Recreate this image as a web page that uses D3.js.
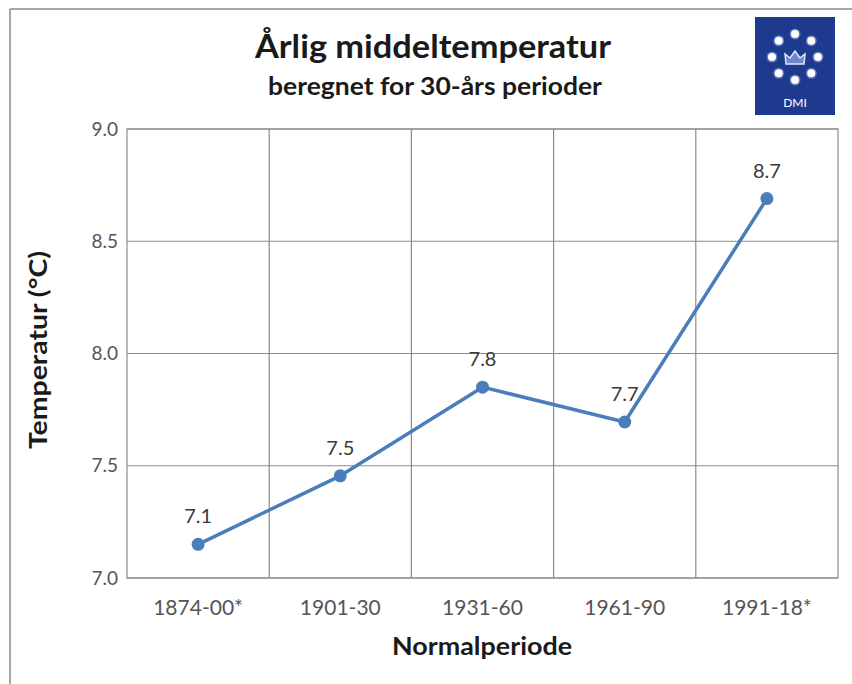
<!DOCTYPE html>
<html><head><meta charset="utf-8">
<script src="https://cdn.jsdelivr.net/npm/d3@7"></script>
<style>body{margin:0;background:#fff;}svg{display:block;}</style>
</head><body><svg id="c" width="852" height="684"></svg>
<script>
const categories = ["1874-00*", "1901-30", "1931-60", "1961-90", "1991-18*"];
const values = [7.15, 7.455, 7.85, 7.695, 8.69];
const valueLabels = ["7.1", "7.5", "7.8", "7.7", "8.7"];
const yTicks = [7.0, 7.5, 8.0, 8.5, 9.0];
const title = "Årlig middeltemperatur";
const subtitle = "beregnet for 30-års perioder";
const xTitle = "Normalperiode";
const yTitle = "Temperatur (°C)";

const svg = d3.select("#c");
const font = "Lato, 'Open Sans', sans-serif";
const m = {left:127, right:838, top:129, bottom:578};

// outer frame
svg.append("line").attr("x1",10).attr("x2",852).attr("y1",9).attr("y2",9).attr("stroke","#a6a6a6").attr("stroke-width",2);
svg.append("line").attr("x1",10).attr("x2",10).attr("y1",9).attr("y2",684).attr("stroke","#a6a6a6").attr("stroke-width",2);

const x = d3.scaleBand().domain(categories).range([m.left, m.right]).paddingInner(0).paddingOuter(0);
const y = d3.scaleLinear().domain([7,9]).range([m.bottom, m.top]);

// grid
const g = svg.append("g");
g.selectAll("line.h").data(yTicks).join("line")
  .attr("x1",m.left).attr("x2",m.right).attr("y1",d=>y(d)).attr("y2",d=>y(d))
  .attr("stroke","#8c8c8c").attr("stroke-width",1.2);
g.selectAll("line.v").data(categories.slice(1)).join("line")
  .attr("x1",d=>x(d)).attr("x2",d=>x(d)).attr("y1",m.top).attr("y2",m.bottom)
  .attr("stroke","#8c8c8c").attr("stroke-width",1.2);
svg.append("rect").attr("x",m.left).attr("y",m.top).attr("width",m.right-m.left).attr("height",m.bottom-m.top)
  .attr("fill","none").attr("stroke","#8c8c8c").attr("stroke-width",1.2);

// y axis labels
const ya = svg.append("g").attr("transform",`translate(${m.left},0)`)
  .call(d3.axisLeft(y).tickValues(yTicks).tickFormat(d3.format(".1f")).tickSize(0).tickPadding(9));
ya.select(".domain").remove();
ya.selectAll("text").attr("font-family",font).attr("font-size",19).attr("fill","#555555");

// x axis labels
const xa = svg.append("g").attr("transform",`translate(0,${m.bottom})`)
  .call(d3.axisBottom(x).tickSize(0).tickPadding(22));
xa.select(".domain").remove();
xa.selectAll("text").attr("font-family",font).attr("font-size",21).attr("fill","#555555");

// line
const cx = d => x(d) + x.bandwidth()/2;
const pts = categories.map((c,i)=>({c, v:values[i], l:valueLabels[i]}));
svg.append("path").datum(pts)
  .attr("d", d3.line().x(d=>cx(d.c)).y(d=>y(d.v)))
  .attr("fill","none").attr("stroke","#4a7ebb").attr("stroke-width",3.5).attr("stroke-linejoin","round");
svg.selectAll("circle.p").data(pts).join("circle")
  .attr("cx",d=>cx(d.c)).attr("cy",d=>y(d.v)).attr("r",6.5).attr("fill","#4a7ebb");
svg.selectAll("text.lab").data(pts).join("text")
  .attr("x",d=>cx(d.c)).attr("y",d=>y(d.v)-21).attr("text-anchor","middle")
  .attr("font-family",font).attr("font-size",20).attr("fill","#3a3a3a").text(d=>d.l);

// titles
svg.append("text").attr("x",433).attr("y",58).attr("text-anchor","middle")
  .attr("font-family",font).attr("font-weight","bold").attr("font-size",33).attr("fill","#1a1a1a")
  .attr("textLength",356).attr("lengthAdjust","spacingAndGlyphs").text(title);
svg.append("text").attr("x",435).attr("y",95).attr("text-anchor","middle")
  .attr("font-family",font).attr("font-weight","bold").attr("font-size",24).attr("fill","#1a1a1a")
  .attr("textLength",334).attr("lengthAdjust","spacingAndGlyphs").text(subtitle);
svg.append("text").attr("x",482).attr("y",655).attr("text-anchor","middle")
  .attr("font-family",font).attr("font-weight","bold").attr("font-size",25).attr("fill","#1a1a1a")
  .attr("textLength",180).attr("lengthAdjust","spacingAndGlyphs").text(xTitle);
svg.append("text").attr("transform","translate(47,350) rotate(-90)").attr("text-anchor","middle")
  .attr("font-family",font).attr("font-weight","bold").attr("font-size",24).attr("fill","#1a1a1a")
  .attr("textLength",198).attr("lengthAdjust","spacingAndGlyphs").text(yTitle);

// DMI logo
const logo = svg.append("g").attr("transform","translate(755,17)");
logo.append("rect").attr("width",80).attr("height",98).attr("fill","#1e3a8f");
const lc = {x:40, y:40};
d3.range(8).forEach(i=>{
  const a = i*Math.PI/4 - Math.PI/2;
  logo.append("circle").attr("cx",lc.x+23*Math.cos(a)).attr("cy",lc.y+23*Math.sin(a)).attr("r",5.5)
    .attr("fill","#9fb4ea").attr("opacity",0.5);
  logo.append("circle").attr("cx",lc.x+23*Math.cos(a)).attr("cy",lc.y+23*Math.sin(a)).attr("r",4)
    .attr("fill","#ffffff");
});
// crown
logo.append("path").attr("d",`M${lc.x-9},${lc.y+7} L${lc.x-10},${lc.y-3} L${lc.x-5},${lc.y+1} L${lc.x},${lc.y-6} L${lc.x+5},${lc.y+1} L${lc.x+10},${lc.y-3} L${lc.x+9},${lc.y+7} Z`)
  .attr("fill","#6f86c9").attr("stroke","#dfe6fa").attr("stroke-width",1.5);
logo.append("text").attr("x",lc.x).attr("y",90).attr("text-anchor","middle")
  .attr("font-family",font).attr("font-size",12).attr("fill","#ffffff").text("DMI");
</script></body></html>
